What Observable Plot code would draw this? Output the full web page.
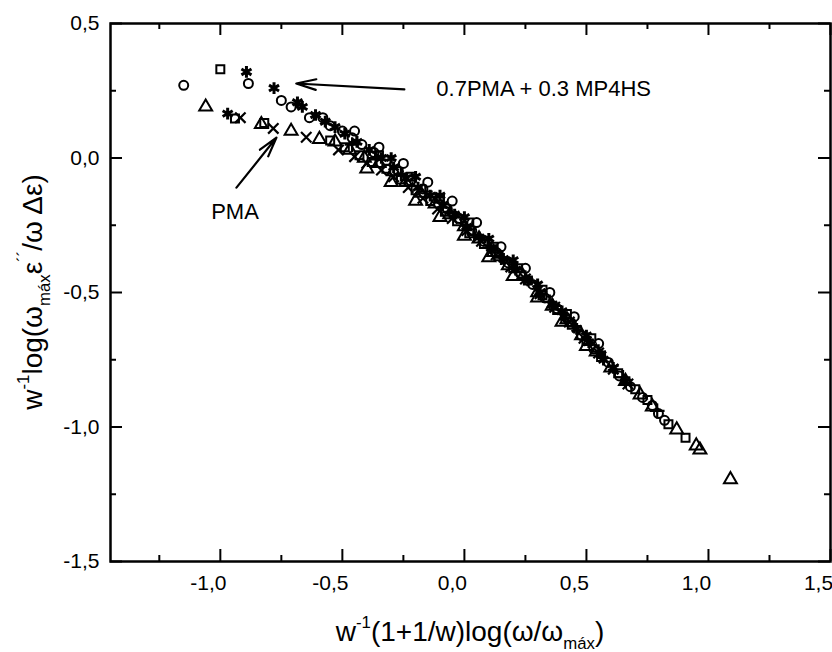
<!DOCTYPE html>
<html><head><meta charset="utf-8">
<script src="https://cdn.jsdelivr.net/npm/d3@7"></script>
<script src="https://cdn.jsdelivr.net/npm/@observablehq/plot@0.6"></script>
<style>body{margin:0;background:#fff} #chart{width:832px;height:652px}</style>
</head><body><div id="chart"></div>
<script>
// ---- axis ticks ----
const xTicks = [-1.0, -0.5, 0, 0.5, 1.0, 1.5];
const xMinor = [-1.25, -0.75, -0.25, 0.25, 0.75, 1.25];
const yTicks = [0.5, 0, -0.5, -1.0, -1.5];
const yMinor = [0.25, -0.25, -0.75, -1.25];

// ---- series (x, y) ----
const circles = [[-1.15,0.27],[-0.885,0.277],[-0.75,0.214],[-0.71,0.19],[-0.635,0.15],[-0.58,0.15],[-0.55,0.12],[-0.5,0.1],[-0.46,0.075],[-0.45,0.1],[-0.42,0.05],[-0.37,0.02],[-0.35,0.04],[-0.32,-0.01],[-0.27,-0.05],[-0.25,-0.02],[-0.22,-0.085],[-0.17,-0.115],[-0.15,-0.09],[-0.12,-0.15],[-0.07,-0.19],[-0.05,-0.16],[-0.02,-0.225],[0.03,-0.27],[0.05,-0.24],[0.08,-0.31],[0.13,-0.35],[0.15,-0.33],[0.18,-0.39],[0.23,-0.43],[0.25,-0.41],[0.28,-0.47],[0.33,-0.52],[0.35,-0.5],[0.38,-0.56],[0.43,-0.61],[0.45,-0.59],[0.48,-0.66],[0.53,-0.71],[0.55,-0.69],[0.59,-0.76],[0.635,-0.81],[0.68,-0.85],[0.73,-0.89],[0.77,-0.92],[0.795,-0.95],[0.82,-0.975]];
const asterisks = [[-0.893,0.32],[-0.97,0.165],[-0.78,0.26],[-0.684,0.207],[-0.664,0.19],[-0.61,0.16],[-0.57,0.135],[-0.53,0.115],[-0.49,0.09],[-0.44,0.06],[-0.39,0.03],[-0.34,0.0],[-0.3,0.0],[-0.29,-0.035],[-0.24,-0.075],[-0.2,-0.07],[-0.19,-0.11],[-0.14,-0.14],[-0.1,-0.14],[-0.09,-0.175],[-0.04,-0.21],[0.0,-0.22],[0.01,-0.255],[0.06,-0.295],[0.1,-0.3],[0.11,-0.335],[0.16,-0.375],[0.2,-0.38],[0.21,-0.415],[0.26,-0.455],[0.3,-0.47],[0.31,-0.5],[0.36,-0.545],[0.4,-0.57],[0.41,-0.59],[0.46,-0.635],[0.5,-0.66],[0.51,-0.685],[0.56,-0.73],[0.57,-0.75],[0.61,-0.78],[0.66,-0.83]];
const triangles = [[-1.06,0.19],[-0.832,0.125],[-0.71,0.1],[-0.594,0.07],[-0.53,0.06],[-0.47,0.03],[-0.41,0.0],[-0.4,-0.04],[-0.35,-0.02],[-0.3,-0.09],[-0.29,-0.05],[-0.24,-0.09],[-0.2,-0.16],[-0.18,-0.13],[-0.12,-0.17],[-0.1,-0.22],[-0.06,-0.21],[0.0,-0.255],[0.0,-0.29],[0.06,-0.3],[0.1,-0.37],[0.12,-0.35],[0.18,-0.4],[0.2,-0.44],[0.24,-0.44],[0.3,-0.5],[0.3,-0.52],[0.36,-0.55],[0.4,-0.61],[0.42,-0.6],[0.48,-0.66],[0.5,-0.7],[0.54,-0.72],[0.6,-0.78],[0.66,-0.83],[0.72,-0.88],[0.77,-0.925],[0.87,-1.01],[0.95,-1.07],[0.965,-1.085],[1.09,-1.195]];
const squares = [[-1.0,0.33],[-0.94,0.147],[-0.82,0.13],[-0.55,0.065],[-0.49,0.04],[-0.43,0.01],[-0.38,-0.015],[-0.35,0.01],[-0.32,-0.04],[-0.26,-0.08],[-0.22,-0.07],[-0.2,-0.12],[-0.14,-0.16],[-0.1,-0.15],[-0.08,-0.2],[-0.03,-0.235],[0.02,-0.24],[0.02,-0.28],[0.08,-0.32],[0.12,-0.33],[0.14,-0.365],[0.2,-0.41],[0.22,-0.41],[0.26,-0.455],[0.32,-0.49],[0.32,-0.51],[0.38,-0.565],[0.42,-0.58],[0.44,-0.62],[0.5,-0.68],[0.52,-0.67],[0.56,-0.74],[0.63,-0.8],[0.7,-0.86],[0.75,-0.9],[0.836,-0.99],[0.906,-1.04]];
const crosses = [[-0.918,0.15],[-0.783,0.11],[-0.648,0.077],[-0.516,0.03],[-0.45,0.005],[-0.4,-0.02],[-0.34,-0.045],[-0.29,-0.07],[-0.23,-0.11],[-0.17,-0.15],[-0.11,-0.19],[-0.05,-0.225],[0.01,-0.27],[0.07,-0.31],[0.13,-0.36],[0.19,-0.405],[0.25,-0.45],[0.31,-0.505],[0.37,-0.555],[0.43,-0.61],[0.49,-0.67],[0.55,-0.725],[0.61,-0.785],[0.67,-0.84]];
const pluses = [[-0.46,0.05],[-0.36,-0.005],[-0.26,-0.06],[-0.16,-0.125],[-0.06,-0.2],[0.04,-0.285],[0.15,-0.37],[0.25,-0.445],[0.35,-0.535],[0.45,-0.625],[0.55,-0.72],[0.65,-0.815],[0.79,-0.94]];

// ---- annotations ----
const labelTexts = ["0.7PMA + 0.3 MP4HS", "PMA"];
const labelX = [-0.115, -0.94];
const labelY = [0.255, -0.2];
const arrowFrom = [[-0.246, 0.255], [-0.934, -0.11]];
const arrowTo = [[-0.689, 0.277], [-0.77, 0.076]];

const FONT = "'Liberation Sans', Arial, Helvetica, sans-serif";
const W = 832, H = 652;
const mL = 110, mR = 2, mT = 23, mB = 91;
const innerW = W - mL - mR, innerH = H - mT - mB;
const fmt = d => d.toFixed(1).replace(".", ",");
const toObj = a => a.map(([x, y]) => ({x, y}));

function dots(arr, symbol, sw, r) {
  return Plot.dot(toObj(arr), {x: "x", y: "y", symbol: () => symbol, fill: "none", stroke: "black", strokeWidth: sw, r});
}

const labels = labelTexts.map((t, i) => ({t, x: labelX[i], y: labelY[i]}));
const arrows = arrowFrom.map((f, i) => ({x1: f[0], y1: f[1], x2: arrowTo[i][0], y2: arrowTo[i][1]}));

const plot = Plot.plot({
  width: W, height: H,
  marginLeft: mL, marginRight: mR, marginTop: mT, marginBottom: mB,
  style: {fontFamily: FONT, background: "white", color: "black"},
  x: {domain: [-1.45, 1.5], label: null, axis: null},
  y: {domain: [-1.5, 0.5], label: null, axis: null},
  symbol: {type: "identity"},
  marks: [
    Plot.axisX(xTicks, {anchor: "bottom", tickSize: 0, tickPadding: 14, tickFormat: fmt, fontSize: 21, dx: -12, label: null}),
    Plot.axisY(yTicks, {anchor: "left", tickSize: 0, tickPadding: 11, tickFormat: fmt, fontSize: 21, label: null}),
    Plot.ruleX(xTicks, {x: d => d, insetTop: innerH - 12, strokeWidth: 2}),
    Plot.ruleX(xTicks, {x: d => d, insetBottom: innerH - 12, strokeWidth: 2}),
    Plot.ruleX(xMinor, {x: d => d, insetTop: innerH - 6, strokeWidth: 2}),
    Plot.ruleX(xMinor, {x: d => d, insetBottom: innerH - 6, strokeWidth: 2}),
    Plot.ruleY(yTicks, {y: d => d, insetRight: innerW - 12, strokeWidth: 2}),
    Plot.ruleY(yTicks, {y: d => d, insetLeft: innerW - 12, strokeWidth: 2}),
    Plot.ruleY(yMinor, {y: d => d, insetRight: innerW - 6, strokeWidth: 2}),
    Plot.ruleY(yMinor, {y: d => d, insetLeft: innerW - 6, strokeWidth: 2}),
    Plot.frame({stroke: "black", strokeWidth: 2.5}),
    dots(circles, "circle", 2, 4.5),
    dots(squares, "square", 2, 4.5),
    dots(triangles, "triangle", 2, 4.8),
    dots(crosses, "times", 2.2, 4.8),
    dots(pluses, "plus", 2.2, 4.8),
    dots(asterisks, "asterisk", 3, 5.5),
    Plot.arrow(arrows, {x1: "x1", y1: "y1", x2: "x2", y2: "y2", stroke: "black", strokeWidth: 2.2, headLength: 14, headAngle: 30}),
    Plot.text(labels.slice(0, 1), {x: "x", y: "y", text: "t", textAnchor: "start", fontSize: 22, fill: "black"}),
    Plot.text(labels.slice(1), {x: "x", y: "y", text: "t", textAnchor: "middle", fontSize: 22, fill: "black"})
  ]
});

document.getElementById("chart").appendChild(plot);

const svg = d3.select(plot.tagName.toLowerCase() === "svg" ? plot : plot.querySelector("svg"));
const xs = plot.scale("x"), ys = plot.scale("y");
const cx = (xs.range[0] + xs.range[1]) / 2;
const cy = (ys.range[0] + ys.range[1]) / 2;
const TS = 28;

function addTitle(g, parts) {
  const t = g.append("text").attr("text-anchor", "middle").attr("font-family", FONT)
    .attr("font-size", TS).attr("fill", "black");
  let shift = 0;
  for (const [txt, kind] of parts) {
    const target = kind === "sup" ? -0.45 * TS : kind === "sub" ? 0.3 * TS : 0;
    const sp = t.append("tspan").text(txt).attr("dy", target - shift);
    if (kind) sp.attr("font-size", TS * 0.6);
    shift = target;
  }
  return t;
}

const gx = svg.append("g").attr("transform", `translate(${cx},${H - 11})`);
addTitle(gx, [["w"], ["-1", "sup"], ["(1+1/w)log(ω/ω"], ["máx", "sub"], [")"]]);

const gy = svg.append("g").attr("transform", `translate(42,${cy}) rotate(-90)`);
addTitle(gy, [["w"], ["-1", "sup"], ["log(ω"], ["máx", "sub"], ["ε"], ["´´", "sup"], ["/ω Δε)"]]);
</script>
</body></html>
